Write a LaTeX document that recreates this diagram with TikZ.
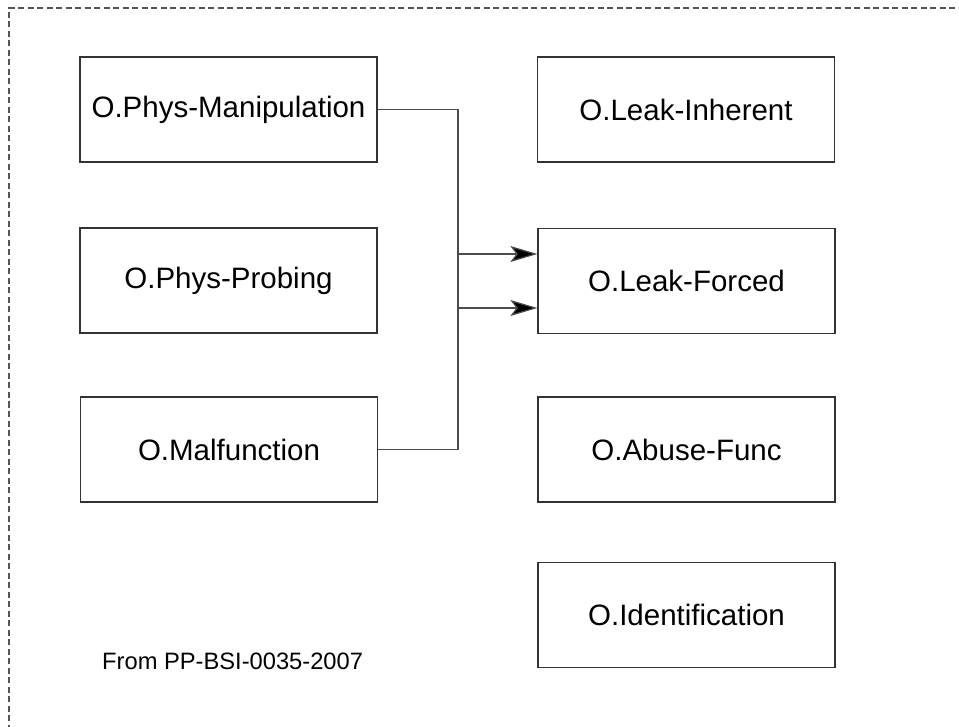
\documentclass[tikz,border=0pt]{standalone}
\usepackage{fontspec}
\setmainfont{Liberation Sans}
\usetikzlibrary{arrows.meta}
\definecolor{linegray}{HTML}{555555}
\begin{document}
\begin{tikzpicture}[x=1pt,y=-1pt,
  objbox/.style={draw=black!80, line width=1.2pt, minimum width=297pt, minimum height=105pt, inner sep=0pt, font=\fontsize{29.5}{34}\selectfont},
  conn/.style={draw=black!70, line width=1.2pt, -{Stealth[length=27pt,width=16pt,inset=6pt,fill=black]}}]
\useasboundingbox (0,0) rectangle (959,727);
\draw[linegray, line width=1.5pt, dash pattern=on 6pt off 3.5pt] (9,740) -- (9,8) -- (970,8);
\node[objbox] (pm) at (228.5,109.5) {O.Phys-Manipulation};
\node[objbox] (li) at (686,109.5) {O.Leak-Inherent};
\node[objbox] (pp) at (228.5,280.5) {O.Phys-Probing};
\node[objbox] (lf) at (686.5,281) {O.Leak-Forced};
\node[objbox] (mf) at (229,449.5) {O.Malfunction};
\node[objbox] (af) at (686.5,449.5) {O.Abuse-Func};
\node[objbox] (id) at (686.5,615) {O.Identification};
\node[font=\fontsize{23.7}{28}\selectfont, anchor=west, inner sep=0pt] (src) at (102,661) {From PP-BSI-0035-2007};
\coordinate (a1) at ([yshift=-27pt]lf.west);
\coordinate (a2) at ([yshift=27pt]lf.west);
\draw[conn] (pm.east) -- (458,109.5) |- (a1);
\draw[conn] (mf.east) -- (458,449.5) |- (a2);
\end{tikzpicture}
\end{document}
